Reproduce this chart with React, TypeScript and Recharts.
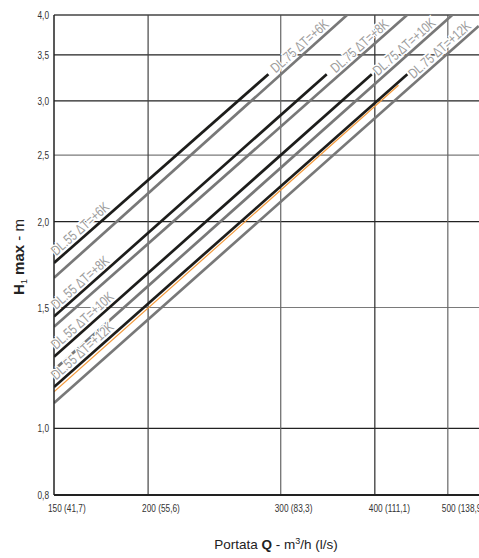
import React from 'react';
import { LineChart, Line, XAxis, YAxis, ReferenceLine } from 'recharts';

// ---- data ----
const flowTicks = [150, 200, 300, 400, 500];
const flowTickLabels = ['150 (41,7)', '200 (55,6)', '300 (83,3)', '400 (111,1)', '500 (138,9)'];
const headTicks = [0.8, 1.0, 1.5, 2.0, 2.5, 3.0, 3.5, 4.0];
const headTickLabels = ['0,8', '1,0', '1,5', '2,0', '2,5', '3,0', '3,5', '4,0'];

const dl55Names = ['DL.55 ΔT=+6K', 'DL.55 ΔT=+8K', 'DL.55 ΔT=+10K', 'DL.55 ΔT=+12K'];
const dl55StartQ = [150, 150, 150, 150];
const dl55StartH = [1.742, 1.455, 1.272, 1.149];
const dl55EndQ = [288.9, 345.3, 396.3, 441.8];
const dl55EndH = [3.28, 3.28, 3.28, 3.28];

const dl75Names = ['DL.75 ΔT=+6K', 'DL.75 ΔT=+8K', 'DL.75 ΔT=+10K', 'DL.75 ΔT=+12K'];
const dl75StartQ = [150, 150, 150, 150];
const dl75StartH = [1.657, 1.406, 1.217, 1.089];
const dl75EndQ = [367.4, 441.4, 506.8, 549.6];
const dl75EndH = [4.0, 4.0, 4.0, 3.855];

const orangeQ = [150, 430];
const orangeH = [1.131, 3.16];

// ---- styles ----
const SANS = "'Liberation Sans', Arial, sans-serif";
const BLACK = '#1d1d1b';
const GRAY = '#787878';
const ORANGE = '#f39a3c';
const LABEL = '#9c9c9c';
const ANG = 41.6;
const C = Math.cos((ANG * Math.PI) / 180);
const S = Math.sin((ANG * Math.PI) / 180);
const TICK_SQUEEZE = 0.72;
const LABEL_SQUEEZE = 0.78;

const dl55Series = dl55StartH.map((h, i) => [
  { q: dl55StartQ[i], h },
  { q: dl55EndQ[i], h: dl55EndH[i] },
]);
const dl75Series = dl75StartH.map((h, i) => [
  { q: dl75StartQ[i], h },
  { q: dl75EndQ[i], h: dl75EndH[i] },
]);
const orangeSeries = orangeQ.map((q, i) => ({ q, h: orangeH[i] }));

const dl75Back = [20, 20, 18, 6];

const labelText = (text: string, px: number, py: number, anchor: 'start' | 'end') => (
  <g key={text} transform={`translate(${px} ${py}) rotate(${-ANG}) scale(${LABEL_SQUEEZE} 1)`}>
    <text
      x={0}
      y={0}
      textAnchor={anchor}
      fontFamily={SANS}
      fontSize={14}
      fill={LABEL}
      stroke="#ffffff"
      strokeWidth={3}
      style={{ paintOrder: 'stroke' }}
    >
      {text}
    </text>
  </g>
);

const startLabel = (text: string) => (props: any) => {
  if (props.index !== 0) return null;
  const s = 6;
  const p = 3.5;
  const px = props.x + s * C - p * S;
  const py = props.y - s * S - p * C;
  return labelText(text, px, py, 'start');
};

const endLabel = (text: string, back: number) => (props: any) => {
  if (props.index !== 1) return null;
  const p = 3.5;
  const px = props.x - back * C - p * S;
  const py = props.y + back * S - p * C;
  return labelText(text, px, py, 'end');
};

const XTick = (props: any) => {
  const i = flowTicks.indexOf(props.payload.value);
  return (
    <g transform={`translate(${props.x - 6} ${props.y + 13}) scale(${TICK_SQUEEZE} 1)`}>
      <text x={0} y={0} textAnchor="start" fontFamily={SANS} fontSize={11.5} fill="#333">
        {flowTickLabels[i]}
      </text>
    </g>
  );
};

const YTick = (props: any) => {
  const i = headTicks.indexOf(props.payload.value);
  return (
    <g transform={`translate(${props.x} ${props.y + 4}) scale(${TICK_SQUEEZE} 1)`}>
      <text x={0} y={0} textAnchor="end" fontFamily={SANS} fontSize={11.5} fill="#333">
        {headTickLabels[i]}
      </text>
    </g>
  );
};

const hGridColor = (v: number) => (v === 2.5 || v === 1.5 ? '#7a7a7a' : '#222');
const vGridColor = (v: number) => (v === 400 ? '#2a2a2a' : v === 200 ? '#444' : '#666');

export default function App() {
  return (
    <div style={{ position: 'absolute', left: 0, top: 0, width: 479, height: 558, background: '#fff' }}>
      <LineChart width={479} height={558} margin={{ top: 15, right: 0, bottom: 33, left: 0 }}>
        <XAxis
          dataKey="q"
          type="number"
          scale="log"
          domain={[150, 550]}
          allowDataOverflow
          ticks={flowTicks}
          tick={<XTick />}
          tickLine={false}
          tickSize={0}
          tickMargin={4}
          height={30}
          axisLine={{ stroke: '#222', strokeWidth: 2 }}
        />
        <YAxis
          dataKey="h"
          type="number"
          scale="log"
          domain={[0.8, 4]}
          allowDataOverflow
          ticks={headTicks}
          tick={<YTick />}
          tickLine={false}
          tickSize={0}
          tickMargin={5}
          width={54}
          axisLine={{ stroke: '#222', strokeWidth: 1.5 }}
        />
        {headTicks.slice(1, -1).map((v) => (
          <ReferenceLine key={'h' + v} y={v} stroke={hGridColor(v)} strokeWidth={1.2} />
        ))}
        {flowTicks.slice(1).map((v) => (
          <ReferenceLine key={'v' + v} x={v} stroke={vGridColor(v)} strokeWidth={1.2} />
        ))}
        <ReferenceLine y={4} stroke="#444" strokeWidth={1.6} />
        {dl55Series.map((d, i) => (
          <Line
            key={'b' + i}
            data={d}
            dataKey="h"
            type="linear"
            stroke={BLACK}
            strokeWidth={2.7}
            dot={false}
            isAnimationActive={false}
            label={startLabel(dl55Names[i])}
          />
        ))}
        {dl75Series.map((d, i) => (
          <Line
            key={'g' + i}
            data={d}
            dataKey="h"
            type="linear"
            stroke={GRAY}
            strokeWidth={2.7}
            dot={false}
            isAnimationActive={false}
            label={endLabel(dl75Names[i], dl75Back[i])}
          />
        ))}
        <Line
          data={orangeSeries}
          dataKey="h"
          type="linear"
          stroke={ORANGE}
          strokeWidth={1.2}
          dot={false}
          isAnimationActive={false}
        />
      </LineChart>
      <svg width={479} height={558} style={{ position: 'absolute', left: 0, top: 0, pointerEvents: 'none' }}>
        <text x={276} y={549} textAnchor="middle" fontFamily={SANS} fontSize={13.5} fill="#222">
          Portata <tspan fontWeight="bold">Q</tspan> - m<tspan fontSize={9} dy={-5}>3</tspan>
          <tspan dy={5}>/h (l/s)</tspan>
        </text>
        <text
          x={0}
          y={0}
          transform="translate(24 257) rotate(-90)"
          textAnchor="middle"
          fontFamily={SANS}
          fontSize={15}
          fill="#222"
        >
          <tspan fontWeight="bold">H</tspan>
          <tspan fontSize={9} dy={3}>1</tspan>
          <tspan fontWeight="bold" dy={-3}> max</tspan>
          <tspan> - m</tspan>
        </text>
      </svg>
    </div>
  );
}
